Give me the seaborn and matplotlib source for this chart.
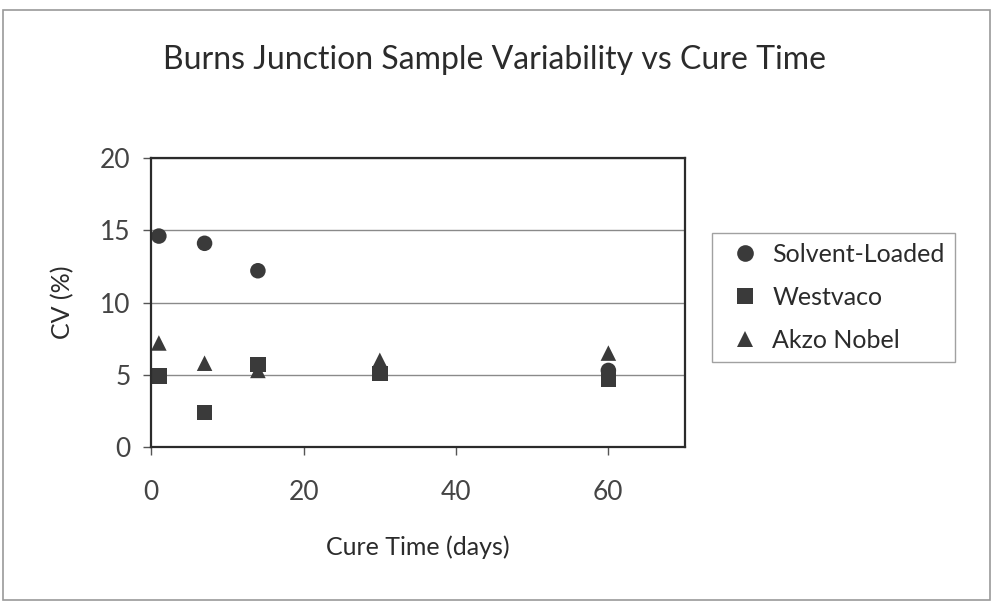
import pandas as pd
import matplotlib.pyplot as plt
import seaborn as sns
from matplotlib.lines import Line2D
from matplotlib.patches import Rectangle

# values
days = [1, 7, 14, 30, 60]
solvent_loaded = [14.6, 14.1, 12.2, 5.3, 5.3]
westvaco = [4.9, 2.4, 5.7, 5.1, 4.7]
akzo_nobel = [7.2, 5.8, 5.3, 6.0, 6.5]

series_names = ['Solvent-Loaded', 'Westvaco', 'Akzo Nobel']
series_markers = {'Solvent-Loaded': 'o', 'Westvaco': 's', 'Akzo Nobel': '^'}
x_ticks = [0, 20, 40, 60]
y_ticks = [0, 5, 10, 15, 20]

df = pd.concat([
    pd.DataFrame({'days': days, 'cv': vals, 'series': name})
    for name, vals in zip(series_names, [solvent_loaded, westvaco, akzo_nobel])
], ignore_index=True)

sns.set_theme(style="white")
plt.rcParams['font.family'] = ['Lato', 'DejaVu Sans']
ink = '#2b2b2b'
mark = '#3a3a3a'

fig = plt.figure(figsize=(9.95, 6.07), dpi=100)
ax = fig.add_axes([0.152, 0.2636, 0.536, 0.476])

sns.scatterplot(data=df, x='days', y='cv', style='series', markers=series_markers,
                color=mark, s=125, edgecolor='none', linewidth=0, legend=False, ax=ax)

ax.set_xlim(0, 70)
ax.set_ylim(0, 20)
ax.set_xticks(x_ticks)
ax.set_yticks(y_ticks)
ax.yaxis.grid(True, color='#8a8a8a', linewidth=1)
ax.set_axisbelow(True)
for sp in ax.spines.values():
    sp.set_color(ink)
    sp.set_linewidth(1.6)
ax.tick_params(axis='x', direction='out', length=6, width=1, color='#555', pad=18,
               labelsize=19, labelcolor='#444', bottom=True)
ax.tick_params(axis='y', direction='out', length=6, width=1, color='#555', pad=9,
               labelsize=19, labelcolor='#444', left=True)

ax.set_xlabel('Cure Time (days)', fontsize=18, color=ink)
ax.set_ylabel('CV (%)', fontsize=18, color=ink)
ax.xaxis.set_label_coords(0.5, -0.305)
ax.yaxis.set_label_coords(-0.144, 0.5)

handles = [Line2D([], [], linestyle='none', marker=series_markers[n], color=mark,
                  markersize=12, markeredgewidth=0) for n in series_names]
leg = ax.legend(handles, series_names, loc='upper left', bbox_to_anchor=(1.052, 0.74),
                fontsize=18, frameon=True, fancybox=False, labelspacing=0.8,
                handletextpad=0.2, handlelength=1.8, borderpad=0.4, borderaxespad=0)
leg.get_frame().set_edgecolor('#8a8a8a')
leg.get_frame().set_linewidth(1)
for t in leg.get_texts():
    t.set_color(ink)

fig.text(0.497, 0.901, 'Burns Junction Sample Variability vs Cure Time',
         ha='center', va='center', fontsize=23, color=ink)

fig.patches.append(Rectangle((0.003, 0.0115), 0.992, 0.972, transform=fig.transFigure,
                             fill=False, edgecolor='#9a9a9a', linewidth=1.2))

fig.savefig('out.png', dpi=100, facecolor='white')
